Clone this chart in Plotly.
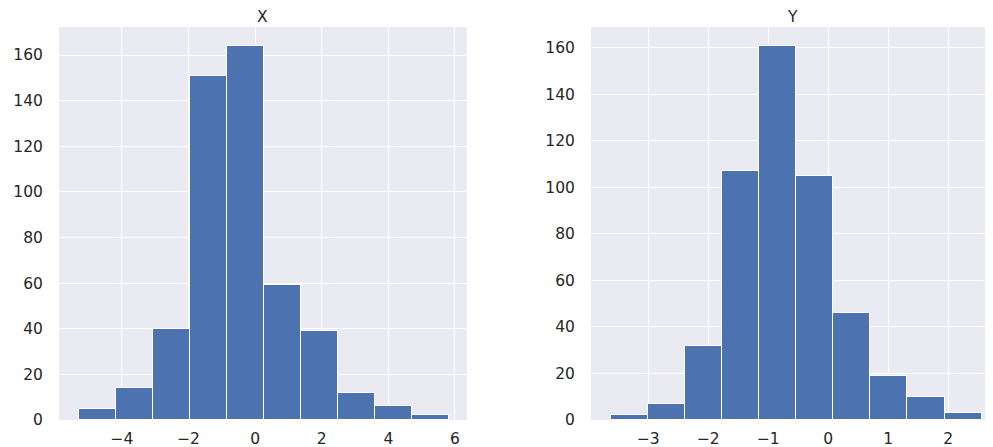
import numpy as np
import plotly.graph_objs as go
from plotly.subplots import make_subplots

# histogram bins
x_edges = np.linspace(-5.29, 5.83, 11)
x_counts = [5, 14, 40, 151, 164, 59, 39, 12, 6, 2]

y_edges = np.linspace(-3.62, 2.555, 11)
y_counts = [2, 7, 32, 107, 161, 105, 46, 19, 10, 3]

x_ticks = [-4, -2, 0, 2, 4, 6]
y_ticks = [-3, -2, -1, 0, 1, 2]
count_ticks = [0, 20, 40, 60, 80, 100, 120, 140, 160]

bar_color = "#4C72B0"
bg = "#EAEAF2"
txt = "#262626"

fig = make_subplots(rows=1, cols=2, subplot_titles=["X", "Y"], horizontal_spacing=0.13)

for col, edges, counts in [(1, x_edges, x_counts), (2, y_edges, y_counts)]:
    fig.add_trace(go.Bar(
        x=edges[:-1],
        y=counts,
        width=np.diff(edges),
        offset=0,
        marker={"color": bar_color, "line": {"color": "white", "width": 1}},
        showlegend=False,
    ), row=1, col=col)

axis_style = {
    "showgrid": True,
    "gridcolor": "white",
    "gridwidth": 1.3,
    "zeroline": False,
    "showline": False,
    "automargin": False,
    "ticks": "outside",
    "tickcolor": "rgba(0,0,0,0)",
    "tickfont": {"family": "DejaVu Sans", "size": 15.5, "color": txt},
}

fig.update_xaxes(ticklen=4, **axis_style)
fig.update_yaxes(ticklen=12, **axis_style)

fig.update_xaxes(range=[-5.89, 6.36], tickvals=x_ticks, domain=[0, 0.4368], row=1, col=1)
fig.update_xaxes(range=[-3.955, 2.745], tickvals=y_ticks, domain=[0.5696, 1], row=1, col=2)
fig.update_yaxes(range=[0, 172.3], tickvals=count_ticks, row=1, col=1)
fig.update_yaxes(range=[0, 169], tickvals=count_ticks, row=1, col=2)

for ann in fig.layout.annotations:
    ann.font = {"family": "DejaVu Sans", "size": 15.5, "color": txt}
    ann.yshift = -1
fig.layout.annotations[0].x = (0 + 0.4368) / 2
fig.layout.annotations[1].x = (0.5696 + 1) / 2

# page body adds an 8px margin, so the figure is a bit smaller and shifted
fig.update_layout(
    width=985,
    height=439,
    margin={"l": 51, "r": 0, "t": 19, "b": 27},
    plot_bgcolor=bg,
    paper_bgcolor="white",
    bargap=0,
    font={"family": "DejaVu Sans", "color": txt},
)

fig.write_html("out.html")
